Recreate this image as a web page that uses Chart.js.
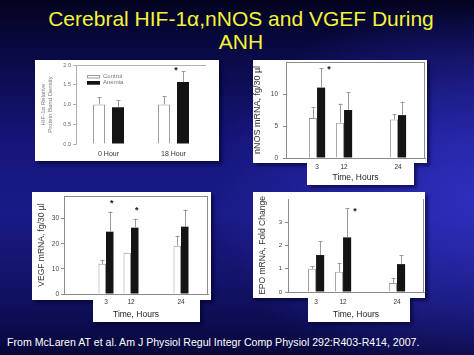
<!DOCTYPE html>
<html>
<head>
<meta charset="utf-8">
<script src="https://cdn.jsdelivr.net/npm/chart.js@4.4.1/dist/chart.umd.min.js"></script>
<style>
html,body{margin:0;padding:0;width:474px;height:355px;overflow:hidden;}
body{
  position:relative;
  font-family:"Liberation Sans",Arial,sans-serif;
  background:
    radial-gradient(ellipse 55% 55% at 100% 55%, rgba(48,48,195,0.9), rgba(48,48,195,0) 100%),
    linear-gradient(to bottom, #03031f 0%, #08083f 12%, #15157a 40%, #1a1a88 60%, #10105e 85%, #07073a 100%);
}
.box{position:absolute;background:#fff;box-shadow:3px 3px 3px rgba(0,0,40,0.55);}
canvas{position:absolute;}
#title{position:absolute;left:4px;top:7px;width:474px;text-align:center;color:#f4f43a;font-size:21px;line-height:23px;}
#cite{position:absolute;left:7px;top:336px;color:#fff;font-size:10.6px;white-space:nowrap;}
</style>
</head>
<body>
<div id="title">Cerebral HIF-1α,nNOS and VGEF During<br>ANH</div>

<div class="box" style="left:35px;top:60px;width:184px;height:101px"></div>
<div class="box" style="left:253px;top:60px;width:174px;height:103px"></div>
<div class="box" style="left:307px;top:162px;width:107px;height:23px"></div>
<div class="box" style="left:32px;top:192px;width:179px;height:108px"></div>
<div class="box" style="left:93px;top:299px;width:107px;height:23px"></div>
<div class="box" style="left:253px;top:192px;width:172px;height:106px"></div>
<div class="box" style="left:308px;top:297px;width:102px;height:25px"></div>

<canvas id="c1" width="184" height="111" style="left:35px;top:50px"></canvas>
<canvas id="c2" width="174" height="135" style="left:253px;top:50px"></canvas>
<canvas id="c3" width="179" height="140" style="left:32px;top:182px"></canvas>
<canvas id="c4" width="174" height="140" style="left:253px;top:182px"></canvas>

<div id="cite">From McLaren AT et al. Am J Physiol Regul Integr Comp Physiol 292:R403-R414, 2007.</div>

<script>
// ---------- DATA ----------
const seriesNames = ['Control', 'Anemia'];

const hifGroups = ['0 Hour', '18 Hour'];
const hifTicks = [0, 0.5, 1.0, 1.5, 2.0];
const hifControl = [1.0, 1.0];
const hifControlErr = [0.18, 0.21];
const hifAnemia = [0.93, 1.57];
const hifAnemiaErr = [0.18, 0.28];
const hifAnemiaSig = [false, true];

const timeLabels = ['3', '12', '24'];
const timeSlots = [1, 2, 4]; // ordinal slots of the source's uneven time axis

const nnosTicks = [0, 5, 10];
const nnosControl = [6.25, 5.5, 6.0];
const nnosControlErr = [1.75, 3.0, 0.8];
const nnosAnemia = [11.0, 7.5, 6.7];
const nnosAnemiaErr = [3.0, 2.8, 2.1];
const nnosAnemiaSig = [true, false, false];

const vegfTicks = [0, 10, 20, 30];
const vegfControl = [12.0, 16.4, 19.2];
const vegfControlErr = [1.6, 0, 4.0];
const vegfAnemia = [24.8, 26.4, 26.8];
const vegfAnemiaErr = [8.0, 3.6, 6.8];
const vegfAnemiaSig = [true, true, false];

const epoTicks = [0, 1, 2, 3];
const epoControl = [1.0, 0.87, 0.39];
const epoControlErr = [0.1, 0.38, 0.21];
const epoAnemia = [1.59, 2.35, 1.2];
const epoAnemiaErr = [0.61, 1.25, 0.38];
const epoAnemiaSig = [false, true, false];

// ---------- PLUGINS ----------
const FONT = '"Liberation Sans", Arial, sans-serif';

const framePlugin = {
  id: 'frame',
  afterDraw(chart, args, o) {
    const {ctx, chartArea: a} = chart;
    ctx.save();
    ctx.strokeStyle = o.color || '#999';
    ctx.lineWidth = 1;
    ctx.beginPath();
    if (o.top) { ctx.moveTo(a.left, Math.round(a.top) + 0.5); ctx.lineTo(a.right, Math.round(a.top) + 0.5); }
    if (o.right) { ctx.moveTo(Math.round(a.right) - 0.5, a.top); ctx.lineTo(Math.round(a.right) - 0.5, a.bottom); }
    ctx.stroke();
    ctx.restore();
  }
};

const errorPlugin = {
  id: 'errorBars',
  afterDatasetsDraw(chart, args, o) {
    const {ctx} = chart;
    const ys = chart.scales.y;
    ctx.save();
    chart.data.datasets.forEach((ds, di) => {
      const meta = chart.getDatasetMeta(di);
      meta.data.forEach((bar, i) => {
        const raw = ds.data[i];
        const v = (typeof raw === 'object') ? raw.y : raw;
        const e = ds.errors ? ds.errors[i] : 0;
        const x = Math.round(bar.x) + 0.5;
        const yTop = ys.getPixelForValue(v + e);
        if (e > 0) {
          ctx.strokeStyle = o.color;
          ctx.lineWidth = 1;
          ctx.beginPath();
          ctx.moveTo(x, bar.y);
          ctx.lineTo(x, yTop);
          ctx.moveTo(x - o.cap, Math.round(yTop) + 0.5);
          ctx.lineTo(x + o.cap, Math.round(yTop) + 0.5);
          ctx.stroke();
        }
        if (ds.sig && ds.sig[i]) {
          ctx.fillStyle = '#111';
          ctx.font = 'bold ' + o.starSize + 'px ' + FONT;
          ctx.textAlign = 'center';
          ctx.textBaseline = 'middle';
          ctx.fillText('*', bar.x + o.starDx, yTop + o.starDy);
        }
      });
    });
    ctx.restore();
  }
};

const legendPlugin = {
  id: 'boxLegend',
  afterDraw(chart, args, o) {
    if (!o.display) return;
    const {ctx, chartArea: a} = chart;
    ctx.save();
    chart.data.datasets.forEach((ds, i) => {
      const x = a.left + o.dx, y = a.top + o.dy + i * o.gap;
      ctx.fillStyle = ds.backgroundColor;
      ctx.fillRect(x, y, o.w, o.h);
      ctx.strokeStyle = ds.borderColor;
      ctx.lineWidth = 1;
      ctx.strokeRect(x + 0.5, y + 0.5, o.w - 1, o.h - 1);
      ctx.fillStyle = o.color;
      ctx.font = o.size + 'px ' + FONT;
      ctx.textAlign = 'left';
      ctx.textBaseline = 'middle';
      ctx.fillText(ds.label, x + o.w + 3, y + o.h / 2);
    });
    ctx.restore();
  }
};

// ---------- FACTORY ----------
function barChart(id, o) {
  const isCat = !!o.categories;
  const toData = vals => isCat ? vals : timeSlots.map((s, i) => ({x: s, y: vals[i]}));
  const data = {
    datasets: [
      {label: seriesNames[0], data: toData(o.ctrl), errors: o.ctrlErr,
       backgroundColor: '#ffffff', borderColor: '#9c9c9c', borderWidth: 1,
       categoryPercentage: o.cp, barPercentage: o.bp},
      {label: seriesNames[1], data: toData(o.anem), errors: o.anemErr, sig: o.sig,
       backgroundColor: '#141414', borderColor: '#141414', borderWidth: 0,
       categoryPercentage: o.cp, barPercentage: o.bp}
    ]
  };
  if (isCat) data.labels = o.categories;

  const xScale = isCat ? {
    type: 'category', offset: true,
    grid: {display: false, drawTicks: false, tickLength: 0}, border: {display: o.xBorder, color: o.axisColor},
    ticks: {font: {family: FONT, size: o.xTickSize}, color: o.xTickColor, padding: o.xTickPad, maxRotation: 0, autoSkip: false},
    title: {display: false},
    afterFit: s => { s.height = o.xHeight; }
  } : {
    type: 'linear', min: o.xMin, max: o.xMax, offset: false,
    afterBuildTicks: s => { s.ticks = timeSlots.map(v => ({value: v})); },
    grid: {display: false, offset: false, drawTicks: false, tickLength: 0}, border: {display: o.xBorder, color: o.axisColor},
    ticks: {callback: v => timeLabels[timeSlots.indexOf(v)], font: {family: FONT, size: o.xTickSize}, color: o.xTickColor, padding: o.xTickPad, maxRotation: 0, autoSkip: false},
    title: {display: true, text: 'Time, Hours', color: '#222', font: {family: FONT, size: 8.5, lineHeight: 1.2}, padding: {top: 0, bottom: o.xTitlePad}},
    afterFit: s => { s.height = o.xHeight; }
  };

  return new Chart(document.getElementById(id), {
    type: 'bar',
    data,
    plugins: [framePlugin, errorPlugin, legendPlugin],
    options: {
      responsive: false, animation: false, devicePixelRatio: 1,
      layout: {padding: {top: o.padTop, right: o.padRight, left: 0, bottom: 0}},
      scales: {
        x: xScale,
        y: {
          min: 0, max: o.yMax,
          afterBuildTicks: s => { s.ticks = o.yTicks.map(v => ({value: v})); },
          grid: {drawOnChartArea: false, drawTicks: true, tickLength: o.tickLen, color: o.axisColor},
          border: {display: true, color: o.axisColor},
          ticks: {callback: v => o.dec ? v.toFixed(1) : String(v), font: {family: FONT, size: o.yTickSize, lineHeight: 1}, color: o.yTickColor, padding: o.yTickPad},
          title: {display: true, text: o.yTitle, color: o.yTitleColor, font: {family: FONT, size: o.yTitleSize, lineHeight: o.yTitleLH}, padding: {top: o.yTitlePad, bottom: 0}},
          afterFit: s => { s.width = o.yWidth; }
        }
      },
      plugins: {
        legend: {display: false},
        tooltip: {enabled: false},
        frame: {top: o.frameTop, right: o.frameRight, color: o.axisColor},
        errorBars: {color: '#9a9a9a', cap: 2, starSize: o.starSize || 9, starDx: o.starDx, starDy: o.starDy},
        boxLegend: o.legend || {display: false}
      }
    }
  });
}

// Panel 1: HIF-1a
barChart('c1', {
  categories: hifGroups, ctrl: hifControl, ctrlErr: hifControlErr, anem: hifAnemia, anemErr: hifAnemiaErr, sig: hifAnemiaSig,
  cp: 0.585, bp: 0.63, yMax: 2.0, yTicks: hifTicks, dec: true,
  yTitle: ['HIF-1α Relative', 'Protein Band Density'], yTitleSize: 6, yTitleLH: 1.15, yTitlePad: 4.5, yTitleColor: '#777',
  yTickSize: 5.5, yTickColor: '#666', yTickPad: 2, tickLen: 3, axisColor: '#b0b0b0',
  xTickSize: 7, xTickColor: '#333', xTickPad: 6, xHeight: 17, xBorder: false,
  yWidth: 41, padTop: 15, padRight: 13, frameTop: true, frameRight: false,
  starDx: -7, starDy: 0,
  legend: {display: true, dx: 11, dy: 10, gap: 6, w: 13, h: 3.5, size: 6, color: '#777'}
});

// Panel 2: nNOS
barChart('c2', {
  ctrl: nnosControl, ctrlErr: nnosControlErr, anem: nnosAnemia, anemErr: nnosAnemiaErr, sig: nnosAnemiaSig,
  cp: 0.6, bp: 1.0, xMin: -0.15, xMax: 5.0, yMax: 15, yTicks: nnosTicks,
  yTitle: 'nNOS mRNA, fg/30 µl', yTitleSize: 9, yTitleLH: 1, yTitlePad: 0, yTitleColor: '#333',
  yTickSize: 6.5, yTickColor: '#444', yTickPad: 5, tickLen: 3, axisColor: '#8a8a8a',
  xTickSize: 6.5, xTickColor: '#333', xTickPad: 5, xTitlePad: 2, xHeight: 27, xBorder: true,
  yWidth: 33, padTop: 12, padRight: 2, frameTop: true, frameRight: true,
  starDx: 8, starDy: 1
});

// Panel 3: VEGF
barChart('c3', {
  ctrl: vegfControl, ctrlErr: vegfControlErr, anem: vegfAnemia, anemErr: vegfAnemiaErr, sig: vegfAnemiaSig,
  cp: 0.6, bp: 1.0, xMin: -0.68, xMax: 5.08, yMax: 39, yTicks: vegfTicks,
  yTitle: 'VEGF mRNA, fg/30 µl', yTitleSize: 8.5, yTitleLH: 1, yTitlePad: 5.75, yTitleColor: '#333',
  yTickSize: 6.5, yTickColor: '#444', yTickPad: 2, tickLen: 3, axisColor: '#8a8a8a',
  xTickSize: 6.5, xTickColor: '#333', xTickPad: 4, xTitlePad: 2, xHeight: 28, xBorder: true,
  yWidth: 32, padTop: 14, padRight: 3, frameTop: true, frameRight: true,
  starDx: 2, starDy: -8
});

// Panel 4: EPO
barChart('c4', {
  ctrl: epoControl, ctrlErr: epoControlErr, anem: epoAnemia, anemErr: epoAnemiaErr, sig: epoAnemiaSig,
  cp: 0.6, bp: 1.0, xMin: -0.04, xMax: 5.0, yMax: 4, yTicks: epoTicks,
  yTitle: 'EPO mRNA, Fold Change', yTitleSize: 8.5, yTitleLH: 1, yTitlePad: 5.75, yTitleColor: '#333',
  yTickSize: 6, yTickColor: '#444', yTickPad: 3, tickLen: 3, axisColor: '#8a8a8a',
  xTickSize: 6.5, xTickColor: '#333', xTickPad: 6, xTitlePad: 2, xHeight: 30, xBorder: true,
  yWidth: 35, padTop: 17, padRight: 3, frameTop: false, frameRight: true,
  starDx: 8, starDy: 3
});
</script>
</body>
</html>
